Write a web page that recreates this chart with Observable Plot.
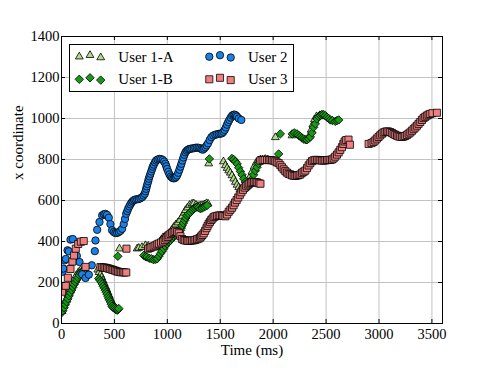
<!DOCTYPE html>
<html><head><meta charset="utf-8">
<script src="https://cdn.jsdelivr.net/npm/d3@7"></script>
<script src="https://cdn.jsdelivr.net/npm/@observablehq/plot@0.6"></script>
<style>
body{margin:0;background:#fff;}
#chart{position:relative;width:491px;height:368px;font-family:"Liberation Serif","Times New Roman",serif;}
</style></head><body><div id="chart"></div>
<script>
// [time ms, x coordinate]
const user1A = [
[5,60],[20,85],[40,115],[60,140],[80,168],[100,195],[120,215],[140,235],[160,250],[180,260],[217,268],
[343,262],[355,250],[368,238],[380,225],[392,210],[404,195],[416,180],[428,165],[440,150],[452,135],[464,118],[476,102],[490,90],[505,80],[520,72],
[548,365],
[715,365],[730,368],[760,372],[793,381],[820,378],[850,372],[880,370],[900,375],[915,385],[930,398],[945,410],[960,420],[980,425],[1000,430],[1020,440],[1040,455],[1060,470],[1080,482],[1100,492],[1120,505],[1140,522],[1160,540],[1171,552],[1190,565],[1210,578],[1234,584],[1250,585],[1270,578],[1290,573],[1310,575],[1328,576],[1350,580],[1370,586],[1385,584],
[1391,780],
[1530,790],[1549,771],[1565,758],[1580,746],[1595,735],[1611,722],[1627,706],[1643,690],[1659,676],[1674,664],[1690,655],[1706,650],[1722,655],[1740,670],[1760,690],[1780,715],[1800,740],[1820,765],[1840,785],[1860,795],[1880,800],
[2021,908],[2178,917],
[2340,915],[2360,945],[2375,970],[2390,995],[2410,1010],[2440,1015],[2470,1010]
];
const user1B = [
[0,52],[12,62],[24,77],[36,92],[48,106],[60,120],[72,135],[84,150],[96,163],[108,177],[120,190],[132,202],[144,213],[156,224],[168,236],[180,246],[195,254],[212,260],
[352,219],[364,211],[375,203],[385,193],[394,182],[405,172],[415,162],[423,152],[431,143],[440,132],[447,122],[455,113],[463,105],[470,94],[478,84],[489,78],[500,73],[513,68],[526,65],[535,68],[541,73],
[532,328],
[777,332],[795,326],[809,324],[830,318],[850,316],[870,311],[890,313],[904,316],[920,328],[935,341],[950,352],[966,365],[980,378],[998,389],[1013,398],[1029,405],[1045,415],[1060,425],[1076,432],[1092,438],[1108,446],[1124,454],[1132,466],[1140,478],[1152,490],[1164,503],[1175,515],[1187,527],[1200,535],[1218,543],[1235,552],[1249,560],[1265,565],[1281,568],[1296,565],[1312,560],[1328,563],[1344,568],[1360,572],[1376,576],
[1397,803],
[1610,805],[1627,800],[1643,790],[1659,779],[1674,760],[1690,742],[1706,725],[1722,706],[1737,690],[1753,677],[1768,668],[1784,685],[1800,705],[1815,725],[1831,745],[1847,762],[1863,780],[1880,793],[1900,800],[1925,803],[1950,800],
[2052,827],[2068,925],
[2180,925],[2200,930],[2225,925],[2240,918],[2257,912],[2272,905],[2288,900],[2304,897],[2320,896],[2335,902],[2351,910],[2367,930],[2382,957],[2398,974],[2414,998],[2430,1010],[2446,1016],[2461,1020],[2477,1019],[2493,1014],[2509,1006],[2525,1000],[2540,993],[2560,990],[2587,986],[2603,990],[2619,993]
];
const user2 = [
[10,252],[16,268],[31,308],[41,315],[57,357],[69,352],[85,409],[107,412],[145,330],[170,300],[195,240],[227,222],[258,238],[286,284],[315,353],[321,405],[337,457],[359,495],[384,527],[400,533],[415,535],[430,530],[447,516],[462,485],[478,455],[494,446],[510,441],[526,442],[541,446],[557,452],[573,462],[588,485],[600,510],[611,535],[621,548],[630,560],[641,571],[651,581],[662,590],[673,597],[686,602],[699,605],[715,606],[730,607],[746,611],[762,616],[775,624],[787,633],[794,645],[800,657],[806,669],[812,681],[819,694],[825,706],[832,718],[840,730],[848,742],[856,754],[864,765],[872,775],[883,786],[894,795],[909,800],[925,803],[941,802],[957,798],[970,790],[982,779],[990,767],[998,754],[1009,740],[1020,727],[1033,717],[1045,711],[1058,708],[1070,709],[1081,714],[1092,722],[1103,735],[1114,750],[1124,765],[1133,779],[1143,795],[1152,810],[1161,823],[1171,835],[1183,843],[1195,848],[1207,851],[1218,852],[1234,854],[1250,855],[1265,857],[1280,858],[1295,857],[1310,855],[1322,851],[1334,848],[1347,853],[1360,860],[1372,869],[1385,879],[1400,895],[1416,909],[1435,917],[1454,921],[1470,923],[1486,925],[1502,926],[1517,928],[1530,935],[1542,944],[1553,956],[1564,970],[1575,982],[1586,993],[1599,1004],[1612,1014],[1624,1018],[1636,1019],[1648,1015],[1659,1009],[1675,1000],[1699,993]
];
const user3 = [
[5,155],[40,184],[60,223],[85,266],[103,302],[118,332],[135,365],[158,388],[183,399],[210,402],
[227,276],
[368,275],[385,274],[400,273],[415,272],[430,270],[445,268],[460,266],[475,263],[490,261],[505,258],[520,255],[535,253],[550,251],[565,250],[580,250],[595,249],[612,249],
[614,365],
[818,365],[835,368],[850,372],[870,376],[888,381],[905,386],[920,390],[940,395],[960,400],[975,407],[990,415],[1003,422],[1013,430],[1030,437],[1045,442],[1060,446],[1076,450],[1092,446],[1108,440],[1124,426],[1140,412],[1155,407],[1170,405],[1187,404],[1200,403],[1218,404],[1234,405],[1250,406],[1265,408],[1281,411],[1296,414],[1310,419],[1320,425],[1332,432],[1344,440],[1357,452],[1370,465],[1380,476],[1391,487],[1403,496],[1415,505],[1427,512],[1438,519],[1454,523],[1470,525],[1486,527],[1501,527],[1517,526],[1530,525],[1549,523],[1565,532],[1580,545],[1596,555],[1612,565],[1626,577],[1640,590],[1655,602],[1670,615],[1685,628],[1700,640],[1715,652],[1730,663],[1745,672],[1760,678],[1775,683],[1790,687],[1805,689],[1820,690],[1835,690],[1850,688],[1865,684],[1880,682],
[1879,795],[1900,797],[1920,798],[1942,798],[1960,797],[1975,797],[1990,796],[2005,795],[2020,791],[2035,786],[2052,782],[2068,772],[2083,762],[2099,752],[2115,743],[2130,736],[2146,730],[2162,727],[2178,723],[2194,721],[2210,720],[2225,722],[2241,724],[2257,727],[2272,735],[2288,740],[2304,746],[2320,758],[2335,771],[2351,782],[2367,792],[2382,796],[2398,798],[2414,798],[2430,797],[2446,796],[2461,795],[2477,795],[2493,796],[2509,797],[2524,798],[2540,798],[2556,800],[2571,805],[2587,814],[2603,824],[2619,835],[2634,847],[2650,860],[2663,876],[2675,888],[2690,895],[2712,897],[2725,872],
[2902,876],[2930,880],[2949,886],[2965,893],[2980,902],[2996,910],[3012,918],[3028,926],[3044,932],[3060,935],[3075,937],[3090,936],[3106,934],[3122,929],[3138,924],[3154,920],[3170,916],[3185,913],[3201,911],[3217,910],[3233,912],[3248,915],[3264,920],[3280,926],[3296,932],[3311,940],[3327,948],[3343,956],[3358,965],[3374,974],[3390,983],[3406,993],[3421,1002],[3437,1008],[3452,1014],[3468,1019],[3484,1022],[3505,1026],[3547,1028]
];
const xTicks = [0,500,1000,1500,2000,2500,3000,3500];
const yTicks = [0,200,400,600,800,1000,1200,1400];
const seriesNames = ["User 1-A","User 1-B","User 2","User 3"];
const seriesData = [user1A, user1B, user2, user3];
const colors = ["#b0dc8c","#169a16","#1a82e6","#f08080"];
const symbols = ["triangle","diamond2","circle","square"];
const radii = [2.9, 3.8, 3.7, 4.0];

const W = 491, H = 368, mL = 61, mR = 49, mT = 36, mB = 45;
const iw = W - mL - mR, ih = H - mT - mB;

const dotMarks = seriesData.map((arr, i) => Plot.dot(arr, {
  x: d => d[0], y: d => d[1], symbol: symbols[i], r: radii[i],
  fill: colors[i], stroke: "black", strokeWidth: 0.8, clip: true
}));

const chart = Plot.plot({
  width: W, height: H,
  marginLeft: mL, marginRight: mR, marginTop: mT, marginBottom: mB,
  style: {fontFamily: "'Liberation Serif', serif", fontSize: "14.5px", background: "white", color: "black"},
  x: {domain: [0, 3600]},
  y: {domain: [0, 1400]},
  marks: [
    Plot.gridX(xTicks, {stroke: "#c2c2c2", strokeOpacity: 1}),
    Plot.gridY(yTicks, {stroke: "#c2c2c2", strokeOpacity: 1}),
    ...dotMarks,
    Plot.ruleY(yTicks, {insetRight: iw - 4, stroke: "black"}),
    Plot.ruleY(yTicks, {insetLeft: iw - 4, stroke: "black"}),
    Plot.ruleX(xTicks, {insetTop: ih - 4, stroke: "black"}),
    Plot.ruleX(xTicks, {insetBottom: ih - 4, stroke: "black"}),
    Plot.frame({stroke: "black"}),
    Plot.axisX(xTicks, {tickSize: 0, tickPadding: 5, label: null, fontSize: 14.5, tickFormat: d => String(d)}),
    Plot.axisY(yTicks, {tickSize: 0, tickPadding: 2, label: null, fontSize: 14.5, tickFormat: d => String(d)}),
    Plot.text(["Time (ms)"], {frameAnchor: "bottom", dy: 31, fontSize: 15}),
    Plot.text(["x coordinate"], {frameAnchor: "left", dx: -43, rotate: -90, fontSize: 15})
  ]
});
const host = document.getElementById("chart");
host.appendChild(chart);

// legend
const lg = d3.create("svg").attr("width", 227).attr("height", 50)
  .style("position", "absolute").style("left", "68px").style("top", "43px")
  .style("font-family", "'Liberation Serif', serif");
lg.append("rect").attr("x", 1.5).attr("y", 1.5).attr("width", 224).attr("height", 47)
  .attr("fill", "white").attr("stroke", "black").attr("stroke-width", 1);
const symMap = {triangle: d3.symbolTriangle, diamond2: d3.symbolDiamond2, circle: d3.symbolCircle, square: d3.symbolSquare};
const colX = [[11.3, 22, 32.7], [141.3, 152, 162.7]];
const rowY = [13.7, 36.3];
const yOff = [0, -1.5, 0.8];
const textX = [50.3, 180];
seriesNames.forEach((name, i) => {
  const col = Math.floor(i / 2), row = i % 2;
  const path = d3.symbol(symMap[symbols[i]], Math.PI * radii[i] * radii[i])();
  colX[col].forEach((mx, k) => {
    lg.append("path").attr("d", path)
      .attr("transform", `translate(${mx},${rowY[row] + yOff[k]})`)
      .attr("fill", colors[i]).attr("stroke", "black").attr("stroke-width", 0.8);
  });
  lg.append("text").attr("x", textX[col]).attr("y", rowY[row] + 5)
    .attr("font-size", 15).attr("fill", "black").text(name);
});
host.appendChild(lg.node());
</script></body></html>
